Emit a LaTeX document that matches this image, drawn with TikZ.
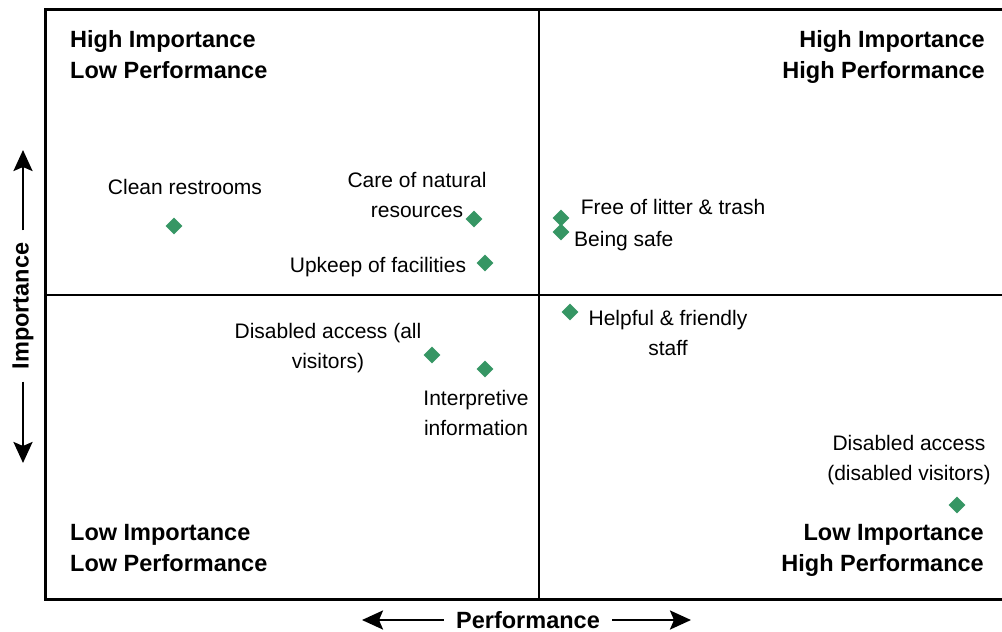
\documentclass[tikz,border=0pt]{standalone}
\usepackage{fontspec}
\setmainfont{Liberation Sans}
\usetikzlibrary{positioning,arrows.meta,shapes.geometric}
\definecolor{markgreen}{RGB}{54,150,100}

\begin{document}
\begin{tikzpicture}[x=1pt,y=-1pt,
    item/.style={fill=markgreen,diamond,inner sep=0pt,minimum size=17pt},
    lbl/.style={font=\fontsize{21}{30}\selectfont,align=center,inner sep=0pt},
    quad/.style={font=\fontsize{23.5}{31}\selectfont\bfseries,inner sep=0pt},
    axarrow/.style={line width=2.6pt,shorten <=12pt,-{Stealth[length=21pt,width=19pt,inset=4pt]}}]
  \useasboundingbox (0,0) rectangle (1002,632);
  \draw[line width=3pt] (1002,9) -- (45,9) -- (45,599) -- (1002,599);
  \draw[line width=1.6pt] (539,9) -- (539,599);
  \draw[line width=1.6pt] (45,295) -- (1002,295);

  \node[quad,anchor=west,align=left] (hilo) at (70,54.5) {High Importance\\Low Performance};
  \node[quad,anchor=east,align=right] (hihi) at (985,56.5) {High Importance\\High Performance};
  \node[quad,anchor=west,align=left] (lolo) at (70,548.5) {Low Importance\\Low Performance};
  \node[quad,anchor=east,align=right] (lohi) at (984,550.5) {Low Importance\\High Performance};

  \node[item] (clean) at (174,226) {};
  \node[item] (care) at (474,219) {};
  \node[item] (upkeep) at (485,263) {};
  \node[item] (litter) at (561,218) {};
  \node[item] (safe) at (561,232) {};
  \node[item] (helpful) at (570,312) {};
  \node[item] (dacall) at (432,355) {};
  \node[item] (interp) at (485,369) {};
  \node[item] (dacdis) at (957,505) {};

  \node[lbl] at (185,187) {Clean restrooms};
  \node[lbl] at (417,194.5) {Care of natural\\resources};
  \node[lbl] at (378,267) {Upkeep of facilities};
  \node[lbl] at (673,207) {Free of litter \& trash};
  \node[lbl,anchor=west] at (574,241) {Being safe};
  \node[lbl] at (668,332.5) {Helpful \& friendly\\staff};
  \node[lbl] at (328,348) {Disabled access (all\\visitors)};
  \node[lbl] at (476,413) {Interpretive\\information};
  \node[lbl] at (909,460) {Disabled access\\(disabled visitors)};

  \node[quad] (perf) at (528,620) {Performance};
  \coordinate (perfL) at (362,620);
  \coordinate (perfR) at (691,620);
  \draw[axarrow] (perf.west) -- (perfL);
  \draw[axarrow] (perf.east) -- (perfR);
  \node[quad,rotate=90] (imp) at (23,306) {Importance};
  \coordinate (impT) at (23,150);
  \coordinate (impB) at (23,463);
  \draw[axarrow] (imp.east) -- (impT);
  \draw[axarrow] (imp.west) -- (impB);
\end{tikzpicture}
\end{document}
